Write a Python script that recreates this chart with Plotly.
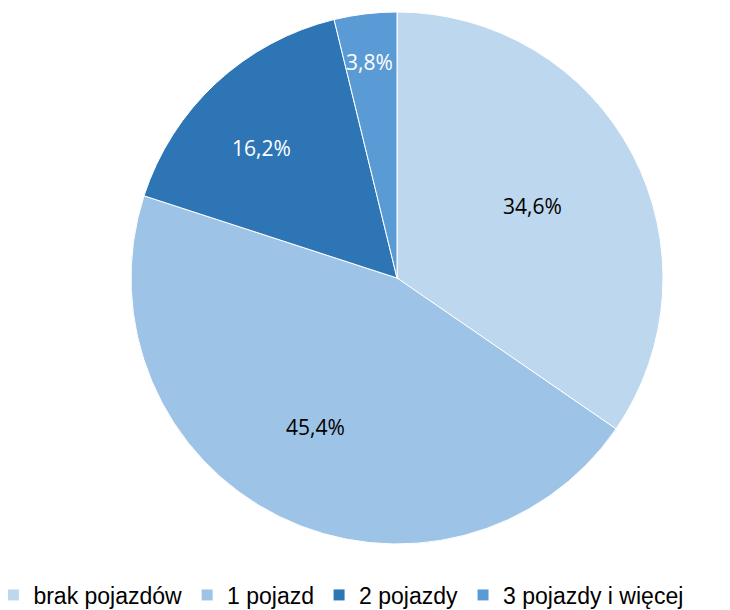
import math
import plotly.graph_objects as go

categories = ["brak pojazdów", "1 pojazd", "2 pojazdy", "3 pojazdy i więcej"]
values = [34.6, 45.4, 16.2, 3.8]
colors = ["#BDD7EE", "#9DC3E6", "#2E75B6", "#5B9BD5"]
text_colors = ["#000000", "#000000", "#FFFFFF", "#FFFFFF"]
label_radius = [0.71, 0.69, 0.75, 0.88]  # fraction of the pie radius for each label

W, H = 730, 610
MB = 40           # bottom margin holding the legend
PH = H - MB       # plot-area height
CX, CY, R = 389, 270, 266  # pie centre / radius in figure pixels

fig = go.Figure(go.Pie(
    labels=categories,
    values=values,
    sort=False,
    direction="clockwise",
    rotation=0,
    marker=dict(colors=colors, line=dict(color="#FFFFFF", width=1)),
    textinfo="none",
    hoverinfo="label+value",
    domain=dict(x=[(CX - R) / W, (CX + R) / W], y=[1 - (CY + R) / PH, 1 - (CY - R) / PH]),
))

total = sum(values)
cum = 0.0
for v, tc, f in zip(values, text_colors, label_radius):
    mid = (cum + v / 2) / total * 2 * math.pi
    cum += v
    px = CX + f * R * math.sin(mid)
    py = CY - f * R * math.cos(mid)
    fig.add_annotation(
        x=px / W, y=1 - py / PH, xref="paper", yref="paper",
        text=f"{v:.1f}%".replace(".", ","), showarrow=False,
        font=dict(family="Open Sans", size=21, color=tc),
    )

fig.update_layout(
    width=W, height=H,
    margin=dict(l=0, r=0, t=0, b=MB, autoexpand=False),
    paper_bgcolor="white",
    showlegend=True,
    legend=dict(
        orientation="h", x=-0.02, xanchor="left", y=-(587 - PH) / PH, yanchor="middle",
        font=dict(family="Liberation Sans", size=23, color="#000000"),
        itemwidth=30,
        traceorder="normal",
    ),
)

fig.write_html("out.html")
